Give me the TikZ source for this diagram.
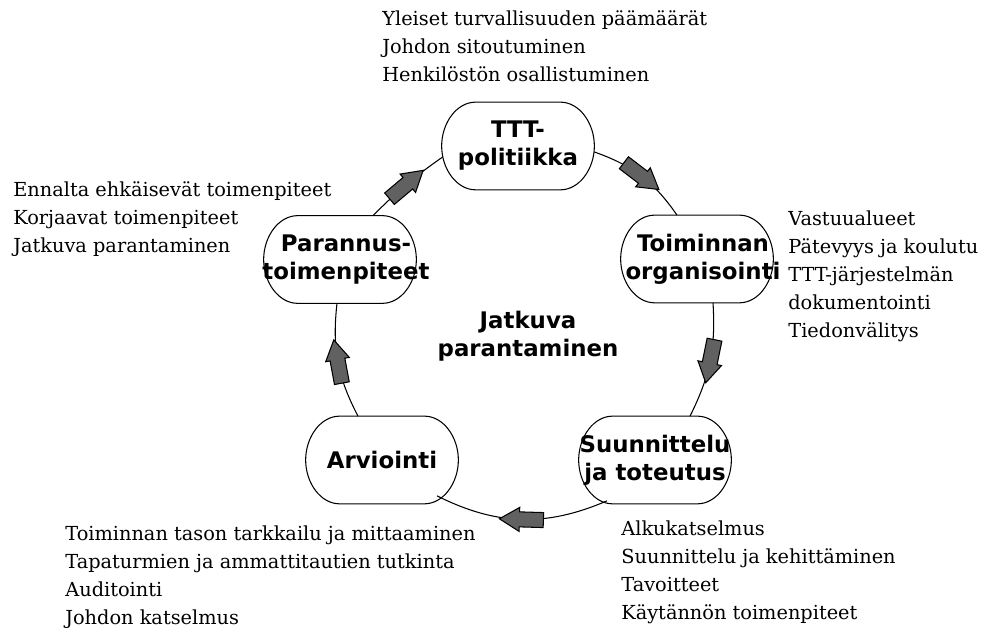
\documentclass[tikz,border=0pt]{standalone}
\usepackage{fontspec}
\setmainfont{DejaVu Serif}
\newfontfamily\stagefont{DejaVu Sans}
\usepackage{tikz}
\usetikzlibrary{calc, decorations.markings}
\newcommand{\blockarrow}{%
  \filldraw[fill=black!62, draw=black, line width=0.6pt]
    (-0.44,-0.15) -- (0.04,-0.15) -- (0.04,-0.24) -- (0.44,0)
    -- (0.04,0.24) -- (0.04,0.15) -- (-0.44,0.15) -- cycle;}
\newcommand{\stageframe}[1]{%
  \draw[line width=0.6pt] ($(#1.north west)+(0.68,0)$) -- ($(#1.north east)+(-0.68,0)$)
    .. controls ($(#1.north east)+(-0.3,0)$) and ($(#1.east)+(0,0.46)$) .. (#1.east)
    .. controls ($(#1.east)+(0,-0.46)$) and ($(#1.south east)+(-0.3,0)$) .. ($(#1.south east)+(-0.68,0)$)
    -- ($(#1.south west)+(0.68,0)$)
    .. controls ($(#1.south west)+(0.3,0)$) and ($(#1.west)+(0,-0.46)$) .. (#1.west)
    .. controls ($(#1.west)+(0,0.46)$) and ($(#1.north west)+(0.3,0)$) .. ($(#1.north west)+(0.68,0)$) -- cycle;}

\begin{document}
\begin{tikzpicture}[
    stage/.style={minimum width=3.04cm, minimum height=1.74cm, inner sep=0pt},
    stagetext/.style={font=\stagefont\bfseries\fontsize{13}{16}\selectfont, align=center},
    notes/.style={font=\fontsize{11}{16}\selectfont, align=left, anchor=north west, inner sep=0pt},
    flow/.style={line width=0.6pt, postaction=decorate,
      decoration={markings, mark=at position 0.5 with {\blockarrow}}}]
  \useasboundingbox (0,0) rectangle (19.98,12.74);

  % The five stages of the cycle
  \node[stage, label={[stagetext]center:TTT-\\politiikka}] (ttt) at (10.36,9.82) {};
  \node[stage, label={[stagetext, xshift=0.12cm]center:Toiminnan\\organisointi}] (org) at (13.94,7.56) {};
  \node[stage, label={[stagetext]center:Suunnittelu\\ja toteutus}] (suun) at (13.10,3.54) {};
  \node[stage, label={[stagetext]center:Arviointi}] (arv) at (7.64,3.54) {};
  \node[stage, label={[stagetext, xshift=0.12cm]center:Parannus-\\toimenpiteet}] (par) at (6.80,7.55) {};
  \foreach \n in {ttt,org,suun,arv,par} \stageframe{\n};

  \node[stagetext] (jatkuva) at (10.56,6.02) {Jatkuva\\parantaminen};

  % Flow round the cycle
  \draw[flow] ($(par.north)+(0.66,0)$) to[bend left=5] ($(ttt.west)+(0.02,-0.22)$);
  \draw[flow] ($(ttt.east)+(0,-0.12)$) to[bend left=18] ($(org.north)+(-0.40,0)$);
  \draw[flow] ($(org.south)+(0.32,0)$) to[bend left=15] ($(suun.north)+(0.70,0)$);
  \draw[flow] ($(suun.south)+(-0.96,0.06)$) to[bend left=25] ($(arv.south)+(1.10,0.16)$);
  \draw[flow] ($(arv.north)+(-0.48,0)$) to[bend left=17] ($(par.south)+(-0.06,0)$);

  % Contents of each stage
  \node[notes] (ttttxt) at (7.64,12.54)
    {Yleiset turvallisuuden päämäärät\\Johdon sitoutuminen\\Henkilöstön osallistuminen};
  \node[notes] (partxt) at (0.26,9.12)
    {Ennalta ehkäisevät toimenpiteet\\Korjaavat toimenpiteet\\Jatkuva parantaminen};
  \node[notes] (orgtxt) at (15.76,8.54)
    {Vastuualueet\\Pätevyys ja koulutu\\TTT-järjestelmän\\dokumentointi\\Tiedonvälitys};
  \node[notes] (arvtxt) at (1.30,2.24)
    {Toiminnan tason tarkkailu ja mittaaminen\\Tapaturmien ja ammattitautien tutkinta\\Auditointi\\Johdon katselmus};
  \node[notes] (suuntxt) at (12.42,2.34)
    {Alkukatselmus\\Suunnittelu ja kehittäminen\\Tavoitteet\\Käytännön toimenpiteet};
\end{tikzpicture}
\end{document}
